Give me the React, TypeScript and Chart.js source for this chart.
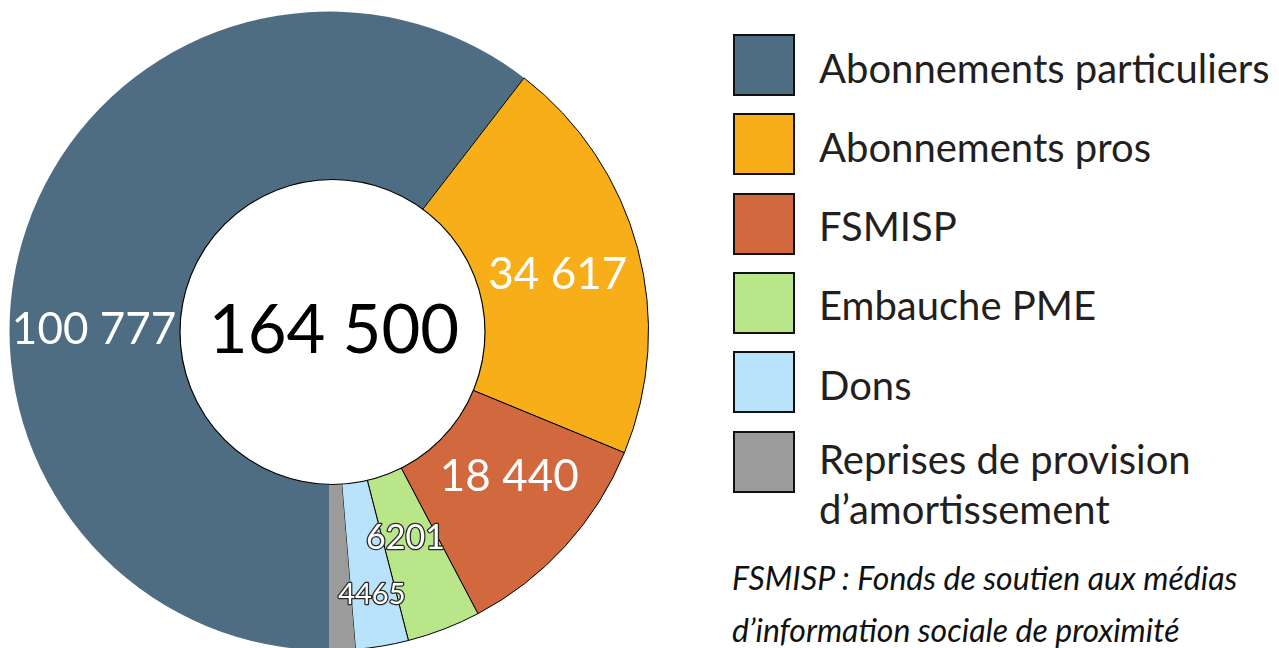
import React, { useEffect, useRef } from "react";
import { Chart, registerables } from "chart.js";

Chart.register(...registerables);

const categories = [
  "Abonnements particuliers",
  "Abonnements pros",
  "FSMISP",
  "Embauche PME",
  "Dons",
  "Reprises de provision d’amortissement",
];
const values = [100777, 34617, 18440, 6201, 4465, 2200];
const valueLabels = ["100 777", "34 617", "18 440", "6201", "4465", ""];
const totalLabel = "164 500";
const colors = ["#4f6d82", "#f7ae18", "#d1683e", "#b9e689", "#b8e3fb", "#9b9b9b"];
const borderWidths = [0, 1, 1, 1, 1, 0];
const footnoteLines = [
  "FSMISP : Fonds de soutien aux médias",
  "d’information sociale de proximité",
];

// label styling: font size, outlined, angle shift (deg), ring fraction
const labelStyles = [
  { size: 44, outline: false, shift: -18.2, frac: 0.507 },
  { size: 44, outline: false, shift: 0.8, frac: 0.513 },
  { size: 44, outline: false, shift: -3.6, frac: 0.484 },
  { size: 34, outline: true, shift: 0.7, frac: 0.417 },
  { size: 29, outline: true, shift: 0.3, frac: 0.688 },
  { size: 29, outline: true, shift: 0, frac: 0.5 },
];

const FONT = "Lato, 'Noto Sans', sans-serif";
const DISC_RADIUS = 152.5;

const overlayPlugin = {
  id: "overlay",
  afterDatasetsDraw(chart: any) {
    const ctx = chart.ctx;
    const meta = chart.getDatasetMeta(0);
    const first = meta.data[0];
    const cx = first.x;
    const cy = first.y;
    const inner = first.innerRadius;
    const outer = first.outerRadius;
    ctx.save();
    // white centre disc with black rim
    const dx = cx + 3.5;
    const dy = cy + 1;
    ctx.beginPath();
    ctx.arc(dx, dy, DISC_RADIUS, 0, Math.PI * 2);
    ctx.fillStyle = "#ffffff";
    ctx.fill();
    ctx.lineWidth = 1.2;
    ctx.strokeStyle = "#000000";
    ctx.stroke();
    // centre total
    ctx.fillStyle = "#000000";
    ctx.font = `67px ${FONT}`;
    ctx.textAlign = "center";
    ctx.textBaseline = "alphabetic";
    ctx.fillText(totalLabel, dx + 1.5, dy - 3 + 67 * 0.358);
    // slice labels
    meta.data.forEach((arc: any, i: number) => {
      const txt = valueLabels[i];
      if (!txt) return;
      const st = labelStyles[i];
      const mid = (arc.startAngle + arc.endAngle) / 2 + (st.shift * Math.PI) / 180;
      const r = inner + st.frac * (outer - inner);
      const x = cx + r * Math.cos(mid);
      const y = cy + r * Math.sin(mid);
      ctx.font = `${st.size}px ${FONT}`;
      ctx.textAlign = "center";
      const by = y + st.size * 0.358;
      if (st.outline) {
        ctx.lineWidth = 2.6;
        ctx.lineJoin = "round";
        ctx.strokeStyle = "#2b2b2b";
        ctx.strokeText(txt, x, by);
      }
      ctx.fillStyle = "#ffffff";
      ctx.fillText(txt, x, by);
    });
    ctx.restore();
  },
};

function DoughnutCanvas() {
  const ref = useRef<HTMLCanvasElement | null>(null);
  useEffect(() => {
    if (!ref.current) return;
    const chart = new Chart(ref.current, {
      type: "doughnut",
      data: {
        labels: categories,
        datasets: [
          {
            data: values,
            backgroundColor: colors,
            borderColor: "#000000",
            borderWidth: borderWidths,
            hoverOffset: 0,
          },
        ],
      },
      options: {
        responsive: false,
        animation: false,
        rotation: 180,
        cutout: 148,
        layout: { padding: 0 },
        plugins: {
          legend: { display: false },
          tooltip: { enabled: false },
          title: { display: false },
        },
        events: [],
      },
      plugins: [overlayPlugin],
    } as any);
    return () => chart.destroy();
  }, []);
  return (
    <canvas
      ref={ref}
      width={640}
      height={640}
      style={{ position: "absolute", left: 9, top: 11, width: 640, height: 640 }}
    />
  );
}

export default function App() {
  const rowStep = 79.3;
  return (
    <div
      style={{
        position: "fixed",
        left: 0,
        top: 0,
        width: 1279,
        height: 648,
        overflow: "hidden",
        background: "#ffffff",
        fontFamily: FONT,
      }}
    >
      <DoughnutCanvas />
      {categories.map((c, i) => (
        <React.Fragment key={c}>
          <div
            style={{
              position: "absolute",
              left: 733,
              top: 34 + i * rowStep,
              width: 62,
              height: 62,
              boxSizing: "border-box",
              border: "2.5px solid #111",
              background: colors[i],
            }}
          />
          <div
            style={{
              position: "absolute",
              left: 819,
              top: 42.5 + i * rowStep - (i === 5 ? 5 : 0),
              width: 455,
              fontSize: 40,
              lineHeight: "50px",
              color: "#231f20",
              whiteSpace: i === 5 ? "normal" : "nowrap",
            }}
          >
            {c}
          </div>
        </React.Fragment>
      ))}
      <div
        style={{
          position: "absolute",
          left: 732,
          top: 552,
          fontSize: 32,
          lineHeight: "52px",
          fontStyle: "italic",
          color: "#111",
          whiteSpace: "nowrap",
        }}
      >
        {footnoteLines.map((l) => (
          <div key={l}>{l}</div>
        ))}
      </div>
    </div>
  );
}
